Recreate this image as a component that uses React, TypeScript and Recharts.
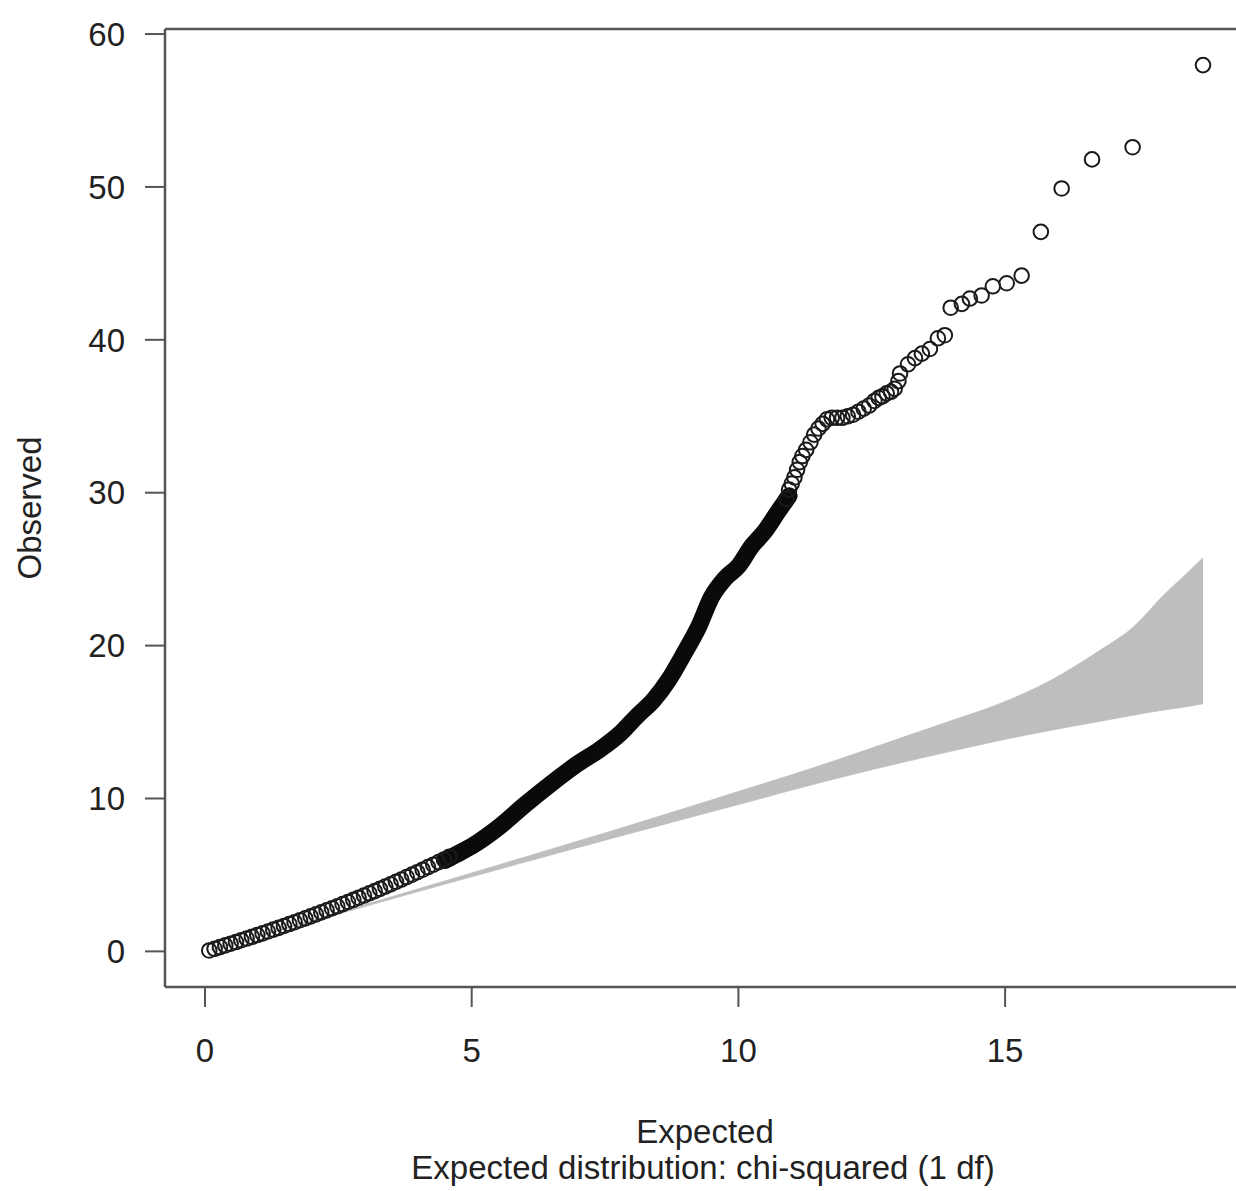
import React from "react";
import { ComposedChart, Area, Line, Scatter, XAxis, YAxis, ReferenceLine } from "recharts";

// low end: chain of separate rings
const lowX = [0.08, 0.18, 0.28, 0.38, 0.48, 0.58, 0.68, 0.78, 0.88, 0.98, 1.08, 1.18, 1.28, 1.38, 1.48, 1.58, 1.68, 1.78, 1.88, 1.98, 2.08, 2.18, 2.28, 2.38, 2.48, 2.58, 2.68, 2.78, 2.88, 2.98, 3.08, 3.18, 3.28, 3.38, 3.48, 3.58, 3.68, 3.78, 3.88, 3.98, 4.08, 4.18, 4.28, 4.38, 4.48, 4.58];
const lowY = [0.06, 0.17, 0.28, 0.39, 0.5, 0.61, 0.73, 0.84, 0.95, 1.07, 1.18, 1.3, 1.42, 1.54, 1.66, 1.79, 1.91, 2.04, 2.16, 2.29, 2.42, 2.55, 2.68, 2.82, 2.95, 3.09, 3.23, 3.37, 3.51, 3.65, 3.8, 3.94, 4.09, 4.24, 4.39, 4.55, 4.7, 4.86, 5.02, 5.18, 5.34, 5.51, 5.67, 5.84, 6.01, 6.19];

// middle: so many points they merge into a solid band
const denseX = [4.5, 4.8, 5.1, 5.5, 6.0, 6.5, 7.0, 7.4, 7.8, 8.1, 8.4, 8.7, 9.0, 9.25, 9.5, 9.75, 10.0, 10.25, 10.5, 10.75, 10.95];
const denseY = [5.95, 6.5, 7.1, 8.1, 9.6, 11.0, 12.3, 13.2, 14.3, 15.4, 16.4, 17.8, 19.6, 21.2, 23.2, 24.4, 25.2, 26.5, 27.5, 28.8, 29.8];

// upper tail: individual rings
const tailX = [10.9, 10.95, 11.0, 11.05, 11.1, 11.15, 11.2, 11.27, 11.35, 11.42, 11.5, 11.58, 11.66, 11.75, 11.85, 11.95, 12.05, 12.15, 12.25, 12.35, 12.45, 12.55, 12.63, 12.7, 12.78, 12.86, 12.93, 13.0, 13.03, 13.18, 13.31, 13.44, 13.59, 13.74, 13.87, 13.98, 14.19, 14.34, 14.56, 14.77, 15.03, 15.31, 15.67, 16.06, 16.63, 17.39, 18.71];
const tailY = [29.6, 30.2, 30.6, 31.0, 31.5, 32.0, 32.4, 32.8, 33.3, 33.8, 34.2, 34.5, 34.8, 34.9, 34.9, 34.9, 35.0, 35.1, 35.3, 35.5, 35.7, 36.0, 36.2, 36.3, 36.5, 36.6, 36.8, 37.3, 37.8, 38.4, 38.8, 39.1, 39.4, 40.1, 40.3, 42.1, 42.35, 42.7, 42.9, 43.5, 43.7, 44.2, 47.06, 49.9, 51.8, 52.6, 57.97];

// 95% band around y = x
const bandX = [0.1, 0.5, 1, 2, 3, 4, 5, 6, 7, 8, 9, 10, 11, 12, 13, 14, 14.9, 15.84, 16.78, 17.4, 18.0, 18.4, 18.71];
const bandLo = [0.1, 0.49, 0.98, 1.96, 2.94, 3.92, 4.88, 5.84, 6.8, 7.74, 8.68, 9.6, 10.55, 11.45, 12.3, 13.1, 13.8, 14.45, 15.05, 15.45, 15.8, 16.0, 16.2];
const bandHi = [0.1, 0.51, 1.02, 2.04, 3.06, 4.09, 5.13, 6.17, 7.22, 8.28, 9.36, 10.46, 11.55, 12.7, 13.9, 15.1, 16.2, 17.7, 19.7, 21.2, 23.4, 24.7, 25.75];

const xTicks = [0, 5, 10, 15];
const yTicks = [0, 10, 20, 30, 40, 50, 60];

const FONT = "'Liberation Sans', Arial, sans-serif";
const AXIS = "#555";

const ring = (p: any) => (
  <circle cx={p.cx} cy={p.cy} r={7.3} fill="none" stroke="#1a1a1a" strokeWidth={2} />
);

export default function App() {
  const points = [
    ...lowX.map((x, i) => ({ x, y: lowY[i] })),
    ...tailX.map((x, i) => ({ x, y: tailY[i] })),
  ];
  const dense = denseX.map((x, i) => ({ x, y: denseY[i] }));
  const band = bandX.map((x, i) => ({ x, range: [bandLo[i], bandHi[i]] }));

  const tick = { fontSize: 33, fill: "#222", fontFamily: FONT };

  return (
    <div style={{ position: "absolute", left: 0, top: 0, width: 1236, height: 1191, overflow: "hidden", background: "#fff", fontFamily: FONT }}>
      <ComposedChart width={1260} height={1191} margin={{ top: 29, right: 17, bottom: 144, left: 0 }}>
        <XAxis
          type="number"
          dataKey="x"
          domain={[-0.75, 19.46]}
          ticks={xTicks}
          allowDataOverflow
          height={60}
          tickSize={20}
          tickMargin={32}
          tick={tick}
          tickLine={{ stroke: AXIS, strokeWidth: 2 }}
          axisLine={{ stroke: AXIS, strokeWidth: 2.5 }}
        />
        <YAxis
          type="number"
          domain={[-2.33, 60.33]}
          ticks={yTicks}
          allowDataOverflow
          width={165}
          tickSize={20}
          tickMargin={20}
          tick={tick}
          tickLine={{ stroke: AXIS, strokeWidth: 2 }}
          axisLine={{ stroke: AXIS, strokeWidth: 2.5 }}
        />
        <ReferenceLine y={60.33} stroke={AXIS} strokeWidth={2.5} ifOverflow="visible" />
        <Area data={band} dataKey="range" type="monotone" stroke="#bebebe" strokeWidth={0.8} fill="#bebebe" fillOpacity={1} isAnimationActive={false} />
        <Line data={dense} dataKey="y" type="monotone" stroke="#0a0a0a" strokeWidth={17} strokeLinecap="round" strokeLinejoin="round" dot={false} isAnimationActive={false} />
        <Scatter data={points} dataKey="y" shape={ring} isAnimationActive={false} />
      </ComposedChart>
      <div style={{ position: "absolute", left: 30, top: 508, transform: "translate(-50%, -50%) rotate(-90deg)", fontSize: 33, color: "#222", whiteSpace: "nowrap" }}>
        Observed
      </div>
      <div style={{ position: "absolute", left: 705, top: 1132, transform: "translate(-50%, -50%)", fontSize: 33, color: "#222", whiteSpace: "nowrap" }}>
        Expected
      </div>
      <div style={{ position: "absolute", left: 703, top: 1168, transform: "translate(-50%, -50%)", fontSize: 33, color: "#222", whiteSpace: "nowrap" }}>
        Expected distribution: chi-squared (1 df)
      </div>
    </div>
  );
}
